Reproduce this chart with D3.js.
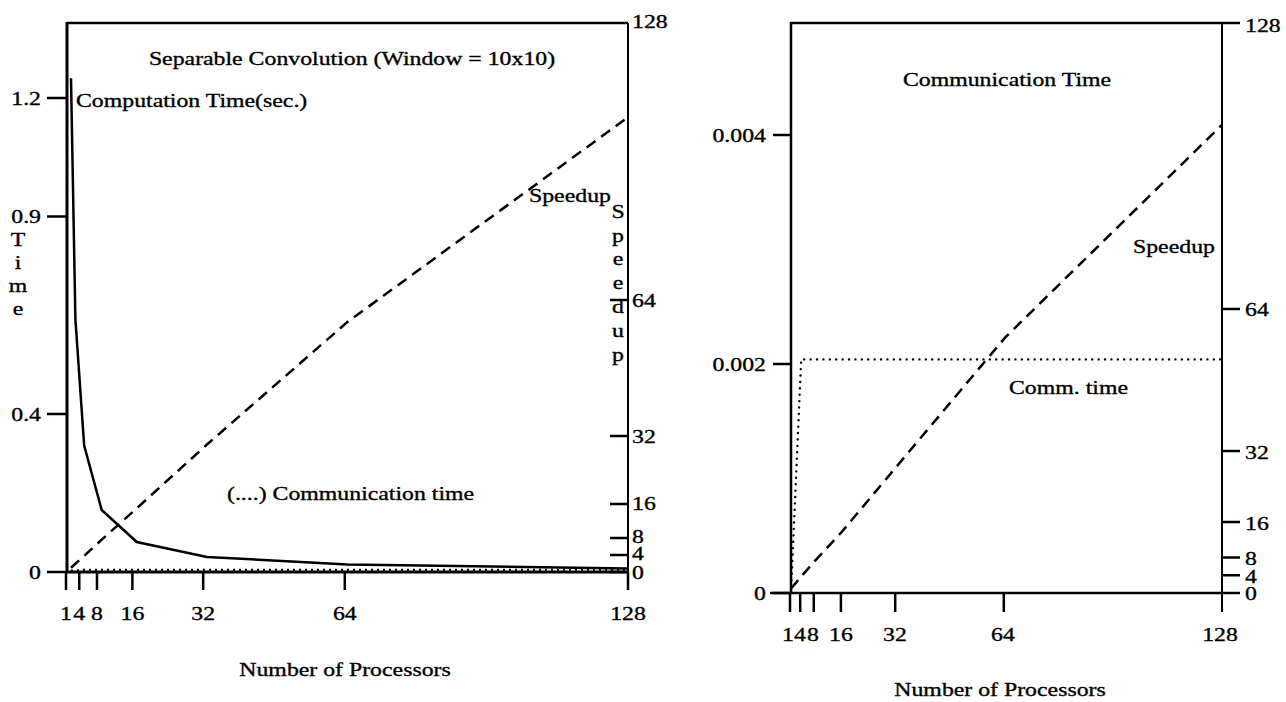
<!DOCTYPE html>
<html><head><meta charset="utf-8">
<script src="https://cdn.jsdelivr.net/npm/d3@7"></script>
<style>
html,body{margin:0;padding:0;background:#fff;}
svg{display:block;}
text{font-family:"Liberation Serif","Times New Roman",serif;fill:#000;stroke:#000;stroke-width:0.35px;}
</style></head>
<body>
<svg id="chart" width="1286" height="702"></svg>
<script>
// ---------- data ----------
const processors = [1, 2, 4, 8, 16, 32, 64, 128];
const computeTimeLeft = [1.25, 0.64, 0.32, 0.157, 0.076, 0.038, 0.019, 0.009];
const speedupLeft = [1, 1.95, 3.8, 7.6, 15, 30, 58.8, 107];
const commProcs = [1, 4, 8, 16, 32, 64, 128];
const commTime = [0, 0.00204, 0.00204, 0.00204, 0.00204, 0.00204, 0.00204];
const speedupRight = [1, 1.9, 3.7, 7.2, 13.8, 28.4, 57.5, 105.5];

const xTicks = [1, 4, 8, 16, 32, 64, 128];
const leftTimeTicks = [0, 0.4, 0.9, 1.2];
const leftTimeLabels = ["0", "0.4", "0.9", "1.2"];
const rightTimeTicks = [0, 0.002, 0.004];
const rightTimeLabels = ["0", "0.002", "0.004"];
const speedTicks = [0, 4, 8, 16, 32, 64, 128];

const svg = d3.select("#chart");
const FS = 19.5, SX = 1.22;

function label(g, x, y, str, anchor, size) {
  return g.append("text")
    .attr("transform", `translate(${x},${y}) scale(${SX},1)`)
    .attr("text-anchor", anchor || "start")
    .attr("dy", "0.35em")
    .style("font-size", (size || FS) + "px")
    .text(str);
}
function vertical(g, x, y0, str, step) {
  str.split("").forEach((c, i) => label(g, x, y0 + i * step, c, "middle"));
}
function line(g, x1, y1, x2, y2, w) {
  g.append("line").attr("x1", x1).attr("y1", y1).attr("x2", x2).attr("y2", y2)
    .attr("stroke", "#000").attr("stroke-width", w || 2.5);
}

// ---------- LEFT CHART ----------
(function () {
  const g = svg.append("g");
  const xAx = d3.scaleLinear().domain([1, 128]).range([66, 628]);
  const xD = d3.scaleLinear().domain([1, 128]).range([71, 628]);
  const yT = d3.scaleLinear().domain([0, 1.2]).range([572, 98]);
  const yS = d3.scaleLinear().domain([0, 128]).range([572, 28]);

  // frame
  line(g, 67, 23, 628, 23, 2.5);
  line(g, 67, 22, 67, 572, 3);
  line(g, 628, 23, 628, 590, 2);
  line(g, 67, 572, 628, 572, 3);

  // left ticks
  leftTimeTicks.forEach((t, i) => {
    line(g, 47, yT(t), 67, yT(t), 2.5);
    label(g, 41, yT(t), leftTimeLabels[i], "end");
  });
  // right ticks (inward)
  speedTicks.forEach(t => {
    if (t !== 128) line(g, 610, yS(t), 628, yS(t), 2.5);
  });
  const rLab = {0: 572, 4: 553, 8: 536, 16: 503, 32: 436, 64: 300, 128: 21};
  speedTicks.forEach(t => label(g, 632, rLab[t], String(t), "start"));

  // x ticks
  xTicks.forEach(t => {
    line(g, xAx(t), 572, xAx(t), 590, 2.5);
    label(g, xAx(t), 613, String(t), "middle");
  });
  label(g, 345, 669, "Number of Processors", "middle");

  // axis letters
  vertical(g, 18, 239, "Time", 23);
  vertical(g, 618, 211, "Speedup", 23.8);

  // series
  g.append("path").datum(processors.map((p, i) => [p, computeTimeLeft[i]]))
    .attr("d", d3.line().x(d => xD(d[0])).y(d => yT(d[1])))
    .attr("fill", "none").attr("stroke", "#000").attr("stroke-width", 2.5);
  g.append("path").datum(processors.map((p, i) => [p, speedupLeft[i]]))
    .attr("d", d3.line().x(d => xD(d[0])).y(d => yS(d[1])))
    .attr("fill", "none").attr("stroke", "#000").attr("stroke-width", 2.5)
    .attr("stroke-dasharray", "11 7");
  g.append("path").datum(commProcs.map((p, i) => [p, commTime[i]]))
    .attr("d", d3.line().x(d => xD(d[0])).y(d => yT(d[1]) - 1.5))
    .attr("fill", "none").attr("stroke", "#000").attr("stroke-width", 2)
    .attr("stroke-dasharray", "2 4");

  // annotations
  label(g, 352, 58, "Separable Convolution (Window = 10x10)", "middle");
  label(g, 76, 100, "Computation Time(sec.)", "start");
  label(g, 529, 195, "Speedup", "start");
  label(g, 227, 493, "(....) Communication time", "start");
})();

// ---------- RIGHT CHART ----------
(function () {
  const g = svg.append("g");
  const xAx = d3.scaleLinear().domain([1, 128]).range([790, 1221]);
  const xD = d3.scaleLinear().domain([1, 128]).range([791, 1222]);
  const yT = d3.scaleLinear().domain([0, 0.004]).range([593, 135]);
  const yS = d3.scaleLinear().domain([0, 128]).range([593, 25]);

  // frame
  line(g, 791, 23, 1240, 23, 2.5);
  line(g, 791, 22, 791, 593, 2.5);
  line(g, 1222, 24, 1222, 612, 2);
  line(g, 770, 593, 1222, 593, 2.5);

  rightTimeTicks.forEach((t, i) => {
    line(g, 773, yT(t), 791, yT(t), 2.5);
    label(g, 766, yT(t), rightTimeLabels[i], "end");
  });
  speedTicks.forEach(t => {
    if (t !== 128) line(g, 1222, yS(t), 1240, yS(t), 2.5);
  });
  const rLab = {0: 593, 4: 576, 8: 558, 16: 523, 32: 452, 64: 309, 128: 25};
  speedTicks.forEach(t => label(g, 1245, rLab[t], String(t), "start"));

  const xLab = {1: 788, 4: 800, 8: 813, 16: 841, 32: 895, 64: 1003, 128: 1220};
  xTicks.forEach(t => {
    if (t !== 128) line(g, xAx(t), 593, xAx(t), 612, 2.5);
    label(g, xLab[t], 634, String(t), "middle");
  });
  label(g, 1000, 689, "Number of Processors", "middle");

  g.append("path").datum(processors.map((p, i) => [p, speedupRight[i]]))
    .attr("d", d3.line().x(d => xD(d[0])).y(d => yS(d[1])))
    .attr("fill", "none").attr("stroke", "#000").attr("stroke-width", 2.5)
    .attr("stroke-dasharray", "11 7");
  g.append("path").datum(commProcs.map((p, i) => [p, commTime[i]]))
    .attr("d", d3.line().x(d => xD(d[0])).y(d => yT(d[1])))
    .attr("fill", "none").attr("stroke", "#000").attr("stroke-width", 2.4)
    .attr("stroke-linecap", "round")
    .attr("stroke-dasharray", "0.1 6.3");

  label(g, 1007, 79, "Communication Time", "middle");
  label(g, 1133, 246, "Speedup", "start");
  label(g, 1009, 387, "Comm. time", "start");
})();
</script>
</body></html>
